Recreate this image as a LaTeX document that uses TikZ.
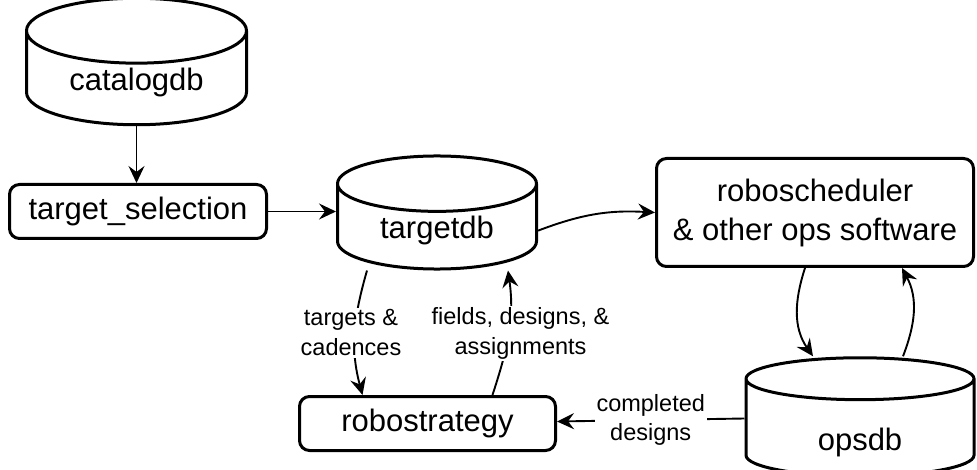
\documentclass[tikz,border=0pt]{standalone}
\usepackage{fontspec}
\setmainfont{Liberation Sans}
\usetikzlibrary{arrows.meta,shapes.geometric}

\tikzset{
  db/.style={cylinder, shape border rotate=90, draw, line width=3pt, aspect=0.46,
    font=\fontsize{31}{38}\selectfont},
  box/.style={rectangle, rounded corners=10pt, draw, line width=3pt,
    align=center, font=\fontsize{31}{39}\selectfont},
  flow/.style={-{Stealth[length=17pt,width=16pt,inset=6pt]}, line width=1.9pt},
  note/.style={fill=white, align=center, inner sep=2pt,
    font=\fontsize{23.5}{29.5}\selectfont},
}

\begin{document}
\begin{tikzpicture}[x=1pt,y=1pt]
    \useasboundingbox (0,0) rectangle (977,469);
    \clip (0,0) rectangle (977,469);

    % databases
    \node[db, minimum width=220pt, minimum height=108pt, anchor=shape center] (catalog) at (136.5,407.5) {catalogdb};
    \node[db, minimum width=199pt, minimum height=108pt, anchor=shape center] (tdb) at (437,256.5) {targetdb};
    \node[db, minimum width=228pt, minimum height=106pt, text height=46pt, anchor=shape center] (ops) at (860,52) {opsdb};

    % software
    \node[box, minimum width=257pt, minimum height=54pt] (tsel) at (138,257.5) {target\_selection};
    \node[box, minimum width=256pt, minimum height=54pt] (rstrat) at (427.5,45.5) {robostrategy};
    \node[box, minimum width=317pt, minimum height=108pt] (sched) at (815,256.5) {roboscheduler\\\& other ops software};

    % data flow
    \draw[flow] (catalog.south) -- (catalog.south |- tsel.north);
    \draw[flow] (tsel.east) -- (tsel.east -| tdb.west);
    \draw[flow] (tdb.east) to[bend left=12] (sched.west);
    \draw[flow] ([xshift=-70pt]tdb.south) to[out=-106,in=105]
        node[note, xshift=-4pt] {targets \&\\cadences} ([xshift=-65pt]rstrat.north);
    \draw[flow] ([xshift=65pt]rstrat.north) to[out=72,in=-82]
        node[note, xshift=12pt] {fields, designs, \&\\assignments} ([xshift=71pt]tdb.south);
    \draw[flow] ([xshift=-10pt]sched.south) to[out=-108,in=125] ([xshift=-47pt]ops.north);
    \draw[flow] ([xshift=43pt]ops.north) to[out=69,in=-62] ([xshift=87pt]sched.south);
    \draw[flow] ([yshift=5pt]ops.west |- rstrat.east) -- node[note] {completed\\designs} ([yshift=2pt]rstrat.east);
\end{tikzpicture}
\end{document}
